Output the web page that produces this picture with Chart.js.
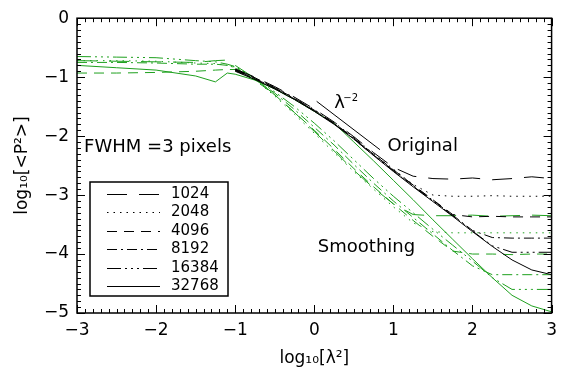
<!DOCTYPE html>
<html>
<head>
<meta charset="utf-8">
<script src="https://cdn.jsdelivr.net/npm/chart.js@4/dist/chart.umd.min.js"></script>
<style>
  html, body { margin: 0; padding: 0; background: #fff; }
  #wrap { width: 564px; height: 379px; }
</style>
</head>
<body>
<div id="wrap"><canvas id="c" width="564" height="379"></canvas></div>
<script>
// x grid: log10 of lambda^2
const logLambda2 = [-3, -2.5, -2, -1.5, -1.25, -1.1, -1, -0.75, -0.5, -0.25, 0, 0.25, 0.5, 0.75, 1, 1.25, 1.5, 1.75, 2, 2.25, 2.5, 2.75, 3];
const resolutions = ['1024', '2048', '4096', '8192', '16384', '32768'];

// original maps (black), defined from x = -1 on
const pre = [null, null, null, null, null, null];
const orig1024  = pre.concat([-0.86, -1.00, -1.16, -1.34, -1.54, -1.76, -2.01, -2.28, -2.53, -2.68, -2.72, -2.73, -2.71, -2.74, -2.72, -2.69, -2.72]);
const orig2048  = pre.concat([-0.88, -1.02, -1.17, -1.35, -1.55, -1.77, -2.02, -2.30, -2.56, -2.82, -3.00, -3.02, -3.02, -3.01, -3.02, -3.02, -3.02]);
const orig4096  = pre.concat([-0.87, -1.01, -1.18, -1.36, -1.56, -1.78, -2.03, -2.31, -2.57, -2.83, -3.08, -3.33, -3.37, -3.36, -3.37, -3.37, -3.37]);
const orig8192  = pre.concat([-0.89, -1.03, -1.18, -1.37, -1.57, -1.79, -2.04, -2.32, -2.58, -2.84, -3.09, -3.34, -3.60, -3.72, -3.73, -3.73, -3.73]);
const orig16384 = pre.concat([-0.88, -1.02, -1.19, -1.37, -1.57, -1.79, -2.05, -2.33, -2.59, -2.85, -3.10, -3.35, -3.61, -3.86, -3.97, -3.97, -3.97]);
const orig32768 = pre.concat([-0.90, -1.04, -1.20, -1.38, -1.58, -1.80, -2.05, -2.33, -2.60, -2.86, -3.11, -3.36, -3.62, -3.87, -4.10, -4.27, -4.35]);

// smoothed maps, FWHM = 3 pixels (green)
const smooth1024  = [-0.72, -0.73, -0.74, -0.75, -0.72, -0.71, -0.80, -1.02, -1.30, -1.60, -1.92, -2.25, -2.58, -2.88, -3.15, -3.33, -3.35, -3.35, -3.34, -3.36, -3.35, -3.34, -3.35];
const smooth2048  = [-0.72, -0.72, -0.73, -0.76, -0.77, -0.80, -0.83, -1.04, -1.32, -1.63, -1.95, -2.28, -2.60, -2.90, -3.20, -3.47, -3.62, -3.64, -3.64, -3.64, -3.64, -3.64, -3.64];
const smooth4096  = [-0.93, -0.93, -0.92, -0.90, -0.88, -0.87, -0.87, -1.05, -1.30, -1.60, -1.90, -2.22, -2.55, -2.86, -3.15, -3.43, -3.70, -3.95, -4.00, -4.00, -4.01, -4.00, -4.00];
const smooth8192  = [-0.75, -0.75, -0.76, -0.78, -0.78, -0.80, -0.84, -1.04, -1.27, -1.55, -1.85, -2.15, -2.48, -2.80, -3.10, -3.38, -3.66, -3.94, -4.20, -4.35, -4.35, -4.35, -4.35];
const smooth16384 = [-0.65, -0.66, -0.67, -0.72, -0.74, -0.78, -0.82, -1.02, -1.25, -1.50, -1.78, -2.08, -2.40, -2.72, -3.02, -3.30, -3.58, -3.85, -4.12, -4.40, -4.60, -4.60, -4.60];
const smooth32768 = [-0.80, -0.84, -0.88, -0.98, -1.08, -0.93, -0.95, -1.05, -1.20, -1.38, -1.58, -1.78, -2.10, -2.42, -2.75, -3.08, -3.42, -3.75, -4.08, -4.40, -4.70, -4.88, -4.98];

// lambda^-2 guide
const guideX = [0.03, 0.83];
const guideY = [-1.41, -2.23];

const originals = [orig1024, orig2048, orig4096, orig8192, orig16384, orig32768];
const smoothed = [smooth1024, smooth2048, smooth4096, smooth8192, smooth16384, smooth32768];

const dashes = {
  '1024': [20, 12],
  '2048': [1.5, 5],
  '4096': [10, 7],
  '8192': [10, 4, 2, 4],
  '16384': [14, 4, 2, 4, 2, 4, 2, 4],
  '32768': []
};
const GREEN = 'rgb(30,160,30)';
const FONT = '"DejaVu Sans", sans-serif';

function toXY(xs, ys) {
  return xs.map((v, i) => ({ x: v, y: ys[i] }));
}

const datasets = [];
resolutions.forEach((r, i) => {
  datasets.push({
    label: r + ' original',
    data: toXY(logLambda2, originals[i]),
    borderColor: '#000',
    borderWidth: 1,
    borderDash: dashes[r],
    order: 0
  });
});
resolutions.forEach((r, i) => {
  datasets.push({
    label: r + ' smoothed',
    data: toXY(logLambda2, smoothed[i]),
    borderColor: GREEN,
    borderWidth: 1,
    borderDash: dashes[r],
    order: 1
  });
});
datasets.push({
  label: 'lambda^-2',
  data: toXY(guideX, guideY),
  borderColor: '#000',
  borderWidth: 1,
  order: 0
});

const decorations = {
  id: 'decorations',
  afterDatasetsDraw(chart) {
    const { ctx, chartArea: a, scales: { x, y } } = chart;
    ctx.save();
    // inward ticks on all four sides
    ctx.strokeStyle = '#000';
    ctx.lineWidth = 1;
    ctx.beginPath();
    for (let i = -30; i <= 30; i++) {
      const px = Math.round(x.getPixelForValue(i / 10)) + 0.5;
      const len = i % 10 === 0 ? 8 : 4;
      ctx.moveTo(px, a.bottom); ctx.lineTo(px, a.bottom - len);
      ctx.moveTo(px, a.top); ctx.lineTo(px, a.top + len);
    }
    for (let i = -50; i <= 0; i++) {
      const py = Math.round(y.getPixelForValue(i / 10)) + 0.5;
      const len = i % 10 === 0 ? 8 : 4;
      ctx.moveTo(a.left, py); ctx.lineTo(a.left + len, py);
      ctx.moveTo(a.right, py); ctx.lineTo(a.right - len, py);
    }
    ctx.stroke();
    ctx.lineWidth = 1.5;
    ctx.strokeRect(a.left, a.top, a.right - a.left, a.bottom - a.top);

    // text labels
    ctx.fillStyle = '#000';
    ctx.textBaseline = 'middle';
    ctx.font = '18px ' + FONT;
    ctx.textAlign = 'left';
    ctx.fillText('FWHM =3 pixels', x.getPixelForValue(-2.91), y.getPixelForValue(-2.19));
    ctx.textAlign = 'center';
    ctx.fillText('Original', x.getPixelForValue(1.37), y.getPixelForValue(-2.17));
    ctx.fillText('Smoothing', x.getPixelForValue(0.66), y.getPixelForValue(-3.89));
    ctx.font = '18px ' + FONT;
    ctx.fillText('\u03bb', x.getPixelForValue(0.32), y.getPixelForValue(-1.45));
    ctx.font = '10px ' + FONT;
    ctx.fillText('\u22122', x.getPixelForValue(0.46), y.getPixelForValue(-1.36));

    // legend box
    const bx = 90, by = 182, bw = 138, bh = 114;
    ctx.fillStyle = '#fff';
    ctx.fillRect(bx, by, bw, bh);
    ctx.lineWidth = 1.5;
    ctx.strokeStyle = '#000';
    ctx.strokeRect(bx, by, bw, bh);
    ctx.font = '15px ' + FONT;
    ctx.textAlign = 'left';
    ctx.fillStyle = '#000';
    resolutions.forEach((r, i) => {
      const ry = Math.round(by + 12 + i * 18.4) + 0.5;
      ctx.lineWidth = 1;
      ctx.setLineDash(dashes[r]);
      ctx.beginPath();
      ctx.moveTo(bx + 17, ry);
      ctx.lineTo(bx + 70, ry);
      ctx.stroke();
      ctx.setLineDash([]);
      ctx.fillText(r, bx + 81, ry);
    });
    ctx.restore();
  }
};

new Chart(document.getElementById('c'), {
  type: 'line',
  data: { datasets },
  options: {
    responsive: false,
    animation: false,
    layout: { padding: { top: 7, right: 7, left: 0, bottom: 0 } },
    elements: { point: { radius: 0 }, line: { tension: 0 } },
    plugins: { legend: { display: false }, tooltip: { enabled: false } },
    scales: {
      x: {
        type: 'linear',
        min: -3,
        max: 3,
        afterFit: s => { s.height = 66; },
        grid: { display: false, drawTicks: false },
        border: { display: false },
        ticks: {
          stepSize: 1,
          padding: 7,
          maxRotation: 0,
          color: '#000',
          font: { family: FONT, size: 17 },
          callback: v => (v < 0 ? '\u2212' + Math.abs(v) : String(v))
        },
        title: {
          display: true,
          text: 'log\u2081\u2080[\u03bb\u00b2]',
          color: '#000',
          font: { family: FONT, size: 17 },
          padding: { top: 0, bottom: 10 }
        }
      },
      y: {
        type: 'linear',
        min: -5,
        max: 0,
        afterFit: s => { s.width = 77; },
        grid: { display: false, drawTicks: false },
        border: { display: false },
        ticks: {
          stepSize: 1,
          padding: 8,
          color: '#000',
          font: { family: FONT, size: 17 },
          callback: v => (v < 0 ? '\u2212' + Math.abs(v) : String(v))
        },
        title: {
          display: true,
          text: 'log\u2081\u2080[<P\u00b2>]',
          color: '#000',
          font: { family: FONT, size: 17 },
          padding: { top: 12, bottom: 0 }
        }
      }
    }
  },
  plugins: [decorations]
});
</script>
</body>
</html>
